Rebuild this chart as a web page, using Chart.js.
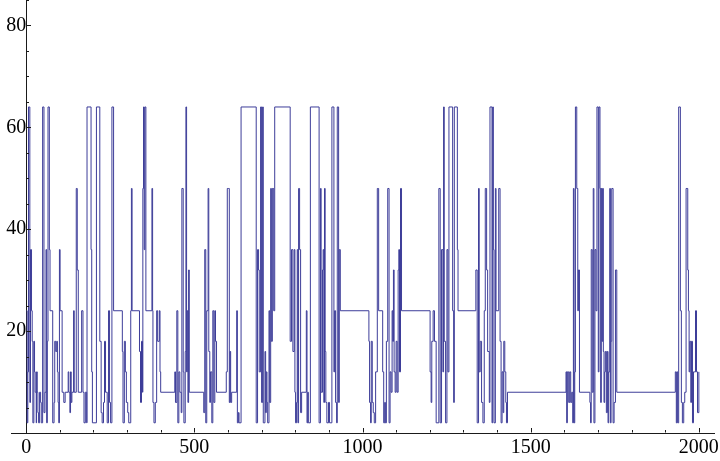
<!DOCTYPE html>
<html>
<head>
<meta charset="utf-8">
<script src="https://cdn.jsdelivr.net/npm/chart.js@4"></script>
<style>
  html, body { margin: 0; padding: 0; background: #fff; }
  #wrap { width: 720px; height: 461px; }
</style>
</head>
<body>
<div id="wrap"><canvas id="myChart" width="720" height="461"></canvas></div>
<script>
// change points of the series: value stepY[i] starts at stepX[i]
const stepX = [
  1, 3, 5, 7, 11, 13, 16, 18, 20, 23, 25, 27, 30, 31, 33, 35, 37, 40, 43, 45,
  49, 53, 56, 59, 61, 63, 65, 69, 71, 79, 83, 85, 88, 91, 93, 95, 97, 99, 101, 107,
  112, 116, 125, 127, 130, 132, 134, 136, 141, 143, 149, 152, 155, 165, 169, 172, 176, 180, 181,
  193, 195, 197, 209, 219, 223, 226, 230, 233, 236, 241, 245, 248, 251, 255, 260, 286, 288, 292, 295, 298,
  302, 305, 311, 313, 315, 337, 340, 343, 346, 347, 349, 351, 353, 356, 374, 376, 377, 380, 384, 388,
  391, 396, 398,
  400, 442, 444, 448, 451, 454, 457, 461, 463, 467, 469, 473, 475, 477, 479, 481, 483, 485, 528, 531,
  534, 537, 541, 543, 546, 548, 552, 555, 558, 561, 563, 566, 595, 598,
  601, 604, 606, 608, 611, 626, 628, 631, 633, 639, 684, 688, 691, 693, 697, 700, 703, 705, 710, 712,
  714, 716, 718, 722, 724, 727, 729, 732, 736, 739, 785, 789, 793,
  797, 799, 801, 804, 806, 808, 810, 813, 816, 819, 833, 835, 837, 839, 845, 871, 875, 877, 881, 883,
  885, 887, 889, 891, 894, 899, 902, 909, 915, 917, 920, 923, 925, 929, 931, 934,
  1019, 1021, 1024, 1026, 1029, 1032, 1035, 1039, 1044, 1048, 1060, 1063, 1066, 1068, 1071, 1075, 1079, 1082, 1085, 1088,
  1090, 1092, 1094, 1097, 1100, 1103, 1106, 1108, 1110, 1113, 1116, 1201, 1204, 1206, 1210, 1214,
  1219, 1227, 1231, 1235, 1239, 1241, 1243, 1247, 1251, 1254, 1257, 1268, 1271, 1273, 1282, 1284, 1337, 1341, 1345, 1347,
  1350, 1354, 1358, 1362, 1365, 1369, 1372, 1377, 1379, 1385, 1387, 1389, 1391, 1395, 1397, 1405, 1409, 1412, 1415, 1418,
  1420, 1423, 1426, 1428, 1431,
  1605, 1607, 1609, 1613, 1616, 1619, 1622, 1625, 1627, 1629, 1631, 1633, 1637, 1640, 1642, 1645, 1676, 1678, 1680, 1683,
  1686, 1688, 1691, 1694, 1697, 1701, 1703, 1706, 1708, 1710, 1712, 1714, 1716, 1718, 1720, 1722, 1725, 1728, 1730, 1732,
  1735, 1737, 1739, 1741, 1745, 1748, 1752, 1756,
  1930, 1933, 1935, 1937, 1940, 1945, 1948, 1951, 1955, 1958, 1962, 1967, 1969, 1971, 1973, 1976, 1978, 1981, 1984, 1988,
  1990, 1993, 1996, 2000
];
const stepY = [
  24, 2, 12, 64, 6, 36, 24, 18, 2, 18, 12, 8, 2, 12, 8, 4, 2, 8, 6, 2,
  64, 4, 8, 36, 2, 18, 64, 36, 24, 2, 6, 18, 16, 18, 12, 6, 2, 36, 24, 8,
  6, 8, 12, 8, 4, 12, 6, 8, 24, 8, 48, 32, 8, 24, 8, 2, 8, 2, 64,
  36, 12, 2, 64, 18, 4, 2, 6, 18, 8, 2, 24, 6, 2, 64, 24, 16, 2, 18, 12, 6,
  4, 2, 24, 48, 24, 16, 6, 18, 8, 48, 64, 36, 64, 24, 48, 24, 6, 2, 6, 24,
  18, 24, 12,
  8, 12, 6, 24, 2, 12, 8, 4, 48, 12, 2, 16, 64, 12, 24, 6, 32, 8, 4, 36,
  2, 24, 48, 16, 6, 12, 2, 24, 6, 24, 18, 8, 12, 48,
  48, 6, 16, 6, 8, 24, 2, 4, 2, 64, 2, 36, 32, 12, 64, 6, 64, 2, 16, 4,
  12, 6, 2, 24, 6, 48, 18, 48, 24, 64, 18, 36, 16,
  36, 8, 2, 6, 36, 2, 48, 36, 4, 8, 24, 2, 8, 2, 64, 2, 48, 8, 32, 36,
  6, 48, 16, 6, 2, 6, 2, 64, 12, 24, 6, 2, 64, 6, 36, 24,
  18, 6, 2, 18, 6, 4, 2, 12, 48, 24, 12, 2, 6, 2, 18, 48, 2, 12, 8, 24,
  18, 32, 12, 8, 18, 8, 32, 36, 12, 48, 24, 12, 6, 18, 24, 18,
  2, 48, 2, 36, 12, 64, 18, 2, 36, 12, 64, 24, 6, 64, 36, 24, 32, 2, 48, 12,
  18, 6, 2, 24, 48, 32, 16, 6, 64, 2, 64, 36, 2, 48, 24, 48, 18, 2, 12, 4,
  18, 12, 6, 2, 8,
  12, 2, 12, 6, 12, 6, 8, 2, 48, 2, 12, 64, 48, 24, 32, 8, 6, 2, 36, 8,
  48, 2, 36, 24, 64, 12, 64, 48, 6, 48, 18, 48, 16, 6, 12, 16, 4, 16, 2, 12,
  48, 2, 18, 48, 2, 6, 32, 8,
  12, 2, 12, 2, 64, 24, 6, 2, 6, 8, 48, 32, 24, 12, 18, 6, 18, 2, 12, 12,
  24, 12, 4, 12
];

const xTicks = [0, 500, 1000, 1500, 2000];
const yTicks = [20, 40, 60, 80];

const lineColor = 'rgb(61, 61, 153)';
const axisColor = '#1a1a1a';

const points = stepX.map((x, i) => ({x: x, y: stepY[i]}));

// Mathematica-style inward tick marks, major and minor
const tickMarks = {
  id: 'tickMarks',
  afterDraw(chart) {
    const {ctx, scales: {x, y}} = chart;
    const ax = Math.round(x.getPixelForValue(0)) + 0.5;
    const ay = Math.round(y.getPixelForValue(0)) - 0.5;
    ctx.save();
    ctx.strokeStyle = axisColor;
    ctx.lineWidth = 1;
    ctx.beginPath();
    for (let v = 100; v <= 2000; v += 100) {
      const px = Math.round(x.getPixelForValue(v)) + 0.5;
      const len = v % 500 === 0 ? 4.5 : 2.5;
      ctx.moveTo(px, ay);
      ctx.lineTo(px, ay - len);
    }
    for (let v = 5; v <= 85; v += 5) {
      const py = Math.round(y.getPixelForValue(v)) + 0.5;
      const len = v % 20 === 0 ? 4.5 : 2.5;
      ctx.moveTo(ax, py);
      ctx.lineTo(ax + len, py);
    }
    ctx.stroke();
    ctx.restore();
  }
};

const ctx = document.getElementById('myChart').getContext('2d');
new Chart(ctx, {
  type: 'line',
  data: {
    datasets: [{
      data: points,
      borderColor: lineColor,
      borderWidth: 1,
      pointRadius: 0,
      stepped: true,
      fill: false
    }]
  },
  options: {
    responsive: false,
    animation: false,
    layout: { padding: { left: 11, right: 6, top: 0, bottom: 28 } },
    plugins: { legend: { display: false }, tooltip: { enabled: false } },
    scales: {
      x: {
        type: 'linear',
        min: -45,
        max: 2045,
        position: { y: 0 },
        afterBuildTicks: s => { s.ticks = xTicks.map(v => ({value: v})); },
        afterFit: s => { s.paddingLeft = 0; s.paddingRight = 0; },
        grid: { display: false, drawTicks: false },
        border: { display: true, color: axisColor, width: 1 },
        ticks: {
          padding: 3,
          maxRotation: 0,
          autoSkip: false,
          color: '#000',
          font: { family: '"Liberation Serif", "Times New Roman", serif', size: 20 },
          callback: v => String(v)
        }
      },
      y: {
        type: 'linear',
        min: 0,
        max: 85,
        position: { x: 0 },
        afterBuildTicks: s => { s.ticks = yTicks.map(v => ({value: v})); },
        afterFit: s => { s.paddingTop = 0; s.paddingBottom = 0; },
        grid: { display: false, drawTicks: false },
        border: { display: true, color: axisColor, width: 1 },
        ticks: {
          padding: 6,
          color: '#000',
          font: { family: '"Liberation Serif", "Times New Roman", serif', size: 20 },
          callback: v => String(v)
        }
      }
    }
  },
  plugins: [tickMarks]
});
</script>
</body>
</html>
